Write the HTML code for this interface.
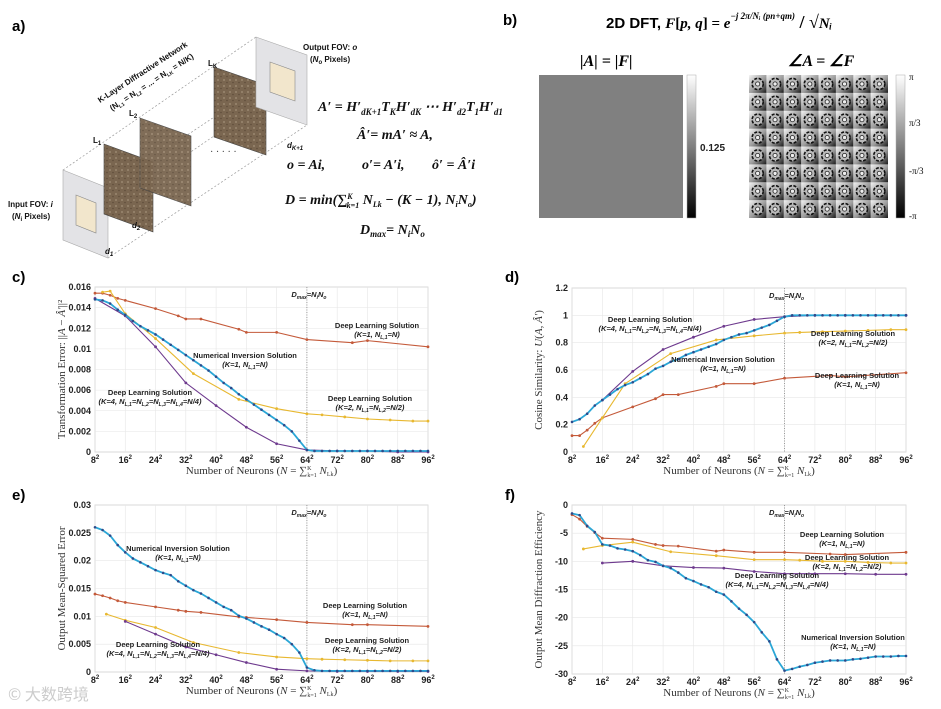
<!DOCTYPE html>
<html><head><meta charset="utf-8">
<style>
html,body{margin:0;padding:0;background:#fff;}
svg{display:block;}
.tk{font-family:"Liberation Sans",sans-serif;font-weight:bold;font-size:9px;fill:#222;}
.ann{font-family:"Liberation Sans",sans-serif;font-weight:bold;font-size:7.5px;fill:#222;text-anchor:middle;}
.annI{font-family:"Liberation Sans",sans-serif;font-weight:bold;font-style:italic;font-size:7.5px;fill:#222;text-anchor:middle;}
.ttl{font-family:"Liberation Serif",serif;font-size:11px;fill:#333;}
.pl{font-family:"Liberation Sans",sans-serif;font-weight:bold;font-size:15px;fill:#000;}
.eq{font-family:"Liberation Serif",serif;font-style:italic;font-weight:bold;font-size:14px;fill:#111;}
.lbl{font-family:"Liberation Sans",sans-serif;font-weight:bold;font-size:8px;fill:#111;}
</style></head>
<body>
<svg id="fig" width="941" height="709" viewBox="0 0 941 709">
<defs>
<pattern id="tex" width="6" height="6" patternUnits="userSpaceOnUse">
<rect width="6" height="6" fill="#7a6650"/><circle cx="2" cy="2" r="1" fill="#9a876f"/><circle cx="5" cy="4.5" r="0.8" fill="#5f4d3a"/>
</pattern>
<linearGradient id="cbar" x1="0" y1="1" x2="0" y2="0"><stop offset="0" stop-color="#000"/><stop offset="1" stop-color="#fff"/></linearGradient>
<linearGradient id="cellg" x1="0" y1="0" x2="1" y2="1"><stop offset="0" stop-color="#f4f4f4"/><stop offset="0.55" stop-color="#9a9a9a"/><stop offset="1" stop-color="#1a1a1a"/></linearGradient>
</defs>

<!-- Panel a -->
<g>
<text class="pl" x="12" y="31">a)</text>
<g stroke="#999" stroke-width="0.7" stroke-dasharray="2,2" fill="none">
<line x1="63" y1="170" x2="256" y2="37"/><line x1="108" y1="188" x2="307" y2="55"/>
<line x1="108" y1="258" x2="307" y2="125"/><line x1="63" y1="240" x2="256" y2="107"/>
</g>
<polygon points="63,170 108,188 108,258 63,240" fill="#e3e3e6" stroke="#aaa" stroke-width="0.6"/>
<polygon points="76,195 96,203 96,233 76,225" fill="#f2e6cc" stroke="#888" stroke-width="0.6"/>
<polygon points="104,144 153,162 153,232 104,214" fill="url(#tex)" stroke="#444" stroke-width="0.6"/>
<polygon points="140,118 191,136 191,206 140,188" fill="url(#tex)" opacity="0.95" stroke="#444" stroke-width="0.6"/>
<polygon points="214,67 266,85 266,155 214,137" fill="url(#tex)" stroke="#444" stroke-width="0.6"/>
<polygon points="256,37 307,55 307,125 256,107" fill="#e3e3e6" stroke="#aaa" stroke-width="0.6"/>
<polygon points="270,62 295,71 295,101 270,92" fill="#f2e6cc" stroke="#888" stroke-width="0.6"/>
<text x="210" y="155" style="font-size:10px;fill:#444">· · · · ·</text>
<text class="lbl" x="93" y="143">L<tspan font-size="6" dy="2">1</tspan></text>
<text class="lbl" x="129" y="116">L<tspan font-size="6" dy="2">2</tspan></text>
<text class="lbl" x="208" y="66">L<tspan font-size="6" dy="2">K</tspan></text>
<text class="lbl" x="132" y="228" font-style="italic">d<tspan font-size="6" dy="2">2</tspan></text>
<text class="lbl" x="105" y="254" font-style="italic">d<tspan font-size="6" dy="2">1</tspan></text>
<text class="lbl" x="287" y="148" font-style="italic">d<tspan font-size="6" dy="2">K+1</tspan></text>
<text class="lbl" x="8" y="207">Input FOV: <tspan font-style="italic">i</tspan></text>
<text class="lbl" x="12" y="219">(<tspan font-style="italic">N</tspan><tspan font-size="6" dy="2">i</tspan><tspan dy="-2"> Pixels)</tspan></text>
<text class="lbl" x="303" y="50">Output FOV: <tspan font-style="italic">o</tspan></text>
<text class="lbl" x="310" y="62">(<tspan font-style="italic">N</tspan><tspan font-size="6" dy="2">o</tspan><tspan dy="-2"> Pixels)</tspan></text>
<text class="lbl" transform="translate(100,103) rotate(-33)">K-Layer Diffractive Network</text>
<text class="lbl" transform="translate(112,111) rotate(-33)">(N<tspan font-size="5" dy="2">L1</tspan><tspan dy="-2"> = N</tspan><tspan font-size="5" dy="2">L2</tspan><tspan dy="-2"> = ... = N</tspan><tspan font-size="5" dy="2">LK</tspan><tspan dy="-2"> = N/K)</tspan></text>
<text class="eq" x="318" y="111">A′ = H′<tspan font-size="9" dy="4">dK+1</tspan><tspan dy="-4">T</tspan><tspan font-size="9" dy="4">K</tspan><tspan dy="-4">H′</tspan><tspan font-size="9" dy="4">dK</tspan><tspan dy="-4"> ⋯ H′</tspan><tspan font-size="9" dy="4">d2</tspan><tspan dy="-4">T</tspan><tspan font-size="9" dy="4">1</tspan><tspan dy="-4">H′</tspan><tspan font-size="9" dy="4">d1</tspan></text>
<text class="eq" x="357" y="139">Â′= mA′ ≈ A,</text>
<text class="eq" x="287" y="169">o = Ai,</text>
<text class="eq" x="362" y="169">o′= A′i,</text>
<text class="eq" x="432" y="169">ô′ = Â′i</text>
<text class="eq" x="285" y="204" font-weight="normal">D = min(∑<tspan font-size="8" dy="-5">K</tspan><tspan font-size="8" dy="9" dx="-6">k=1</tspan><tspan dy="-4"> N</tspan><tspan font-size="8" dy="3">Lk</tspan><tspan dy="-3"> − (K − 1), N</tspan><tspan font-size="8" dy="3">i</tspan><tspan dy="-3">N</tspan><tspan font-size="8" dy="3">o</tspan><tspan dy="-3">)</tspan></text>
<text class="eq" x="360" y="234" font-weight="normal">D<tspan font-size="9" dy="3">max</tspan><tspan dy="-3">= N</tspan><tspan font-size="9" dy="3">i</tspan><tspan dy="-3">N</tspan><tspan font-size="9" dy="3">o</tspan></text>
</g>

<!-- Panel b -->
<g>
<text class="pl" x="503" y="25">b)</text>
<text x="606" y="28" style="font-family:'Liberation Sans',sans-serif;font-weight:bold;font-size:15px">2D DFT, <tspan font-family="Liberation Serif" font-style="italic">F</tspan><tspan font-family="Liberation Serif">[</tspan><tspan font-family="Liberation Serif" font-style="italic">p, q</tspan><tspan font-family="Liberation Serif">] = </tspan><tspan font-family="Liberation Serif" font-style="italic">e</tspan><tspan font-family="Liberation Serif" font-style="italic" font-size="9" dy="-9">−j 2π/Nᵢ (pn+qm)</tspan><tspan font-family="Liberation Serif" dy="9" font-size="18"> / √</tspan><tspan font-family="Liberation Serif" font-style="italic">Nᵢ</tspan></text>
<text x="580" y="66" style="font-family:'Liberation Serif',serif;font-weight:bold;font-style:italic;font-size:16px">|A| = |F|</text>
<text x="788" y="66" style="font-family:'Liberation Serif',serif;font-weight:bold;font-style:italic;font-size:16px">∠A = ∠F</text>
<rect x="539" y="75" width="144" height="143" fill="#808080"/>
<rect x="687" y="75" width="9" height="143" fill="url(#cbar)" stroke="#aaa" stroke-width="0.5"/>
<text class="tk" x="700" y="151" style="font-size:10px">0.125</text>
<g id="phase"></g>
<rect x="896" y="75" width="9" height="143" fill="url(#cbar)" stroke="#aaa" stroke-width="0.5"/>
<text x="909" y="80" style="font-family:'Liberation Serif',serif;font-size:9px">π</text>
<text x="909" y="126" style="font-family:'Liberation Serif',serif;font-size:9px">π/3</text>
<text x="909" y="174" style="font-family:'Liberation Serif',serif;font-size:9px">-π/3</text>
<text x="909" y="219" style="font-family:'Liberation Serif',serif;font-size:9px">-π</text>
</g>

<g id="charts"></g>
<text x="8" y="700" style="font-family:'Noto Sans CJK SC',sans-serif;font-size:16px;fill:#ccc">© 大数跨境</text>
</svg>

<script>
// ===== Chart data (x = n, where N = n^2) =====
const xTicks = [8,16,24,32,40,48,56,64,72,80,88,96];
const niX = [8,10,12,14,16,18,20,22,24,26,28,30,32,34,36,38,40,42,44,46,48,50,52,54,56,58,60,62,64,66,68,70,72,74,76,78,80,82,84,86,88,90,92,94,96];

// c) Transformation error
const cRedX = [8,10,12,14,16,24,30,32,36,46,48,56,64,76,80,96];
const cRedY = [0.0154,0.0154,0.0152,0.0149,0.0147,0.0139,0.0132,0.0129,0.0129,0.0119,0.0116,0.0116,0.0109,0.0106,0.0108,0.0102];
const cBlueY = [0.0148,0.0147,0.0144,0.0138,0.0133,0.0127,0.0122,0.0118,0.0114,0.0109,0.0104,0.0099,0.0094,0.0089,0.0084,0.0079,0.0073,0.0067,0.0062,0.0056,0.0051,0.0046,0.0041,0.0036,0.0031,0.0026,0.0020,0.0011,0.0002,0.0001,0.0001,0.0001,0.0001,0.0001,0.0001,0.0001,0.0001,0.0001,0.0001,0.0001,0.0001,0.0001,0.0001,0.0001,0.0001];
const cYelX = [10,12,16,24,34,46,56,64,68,74,80,86,92,96];
const cYelY = [0.0155,0.0156,0.0134,0.0110,0.0076,0.0051,0.0042,0.0037,0.0036,0.0034,0.0032,0.0031,0.0030,0.0030];
const cPurX = [8,16,24,32,40,48,56,64,72,80,88,96];
const cPurY = [0.0149,0.0132,0.0102,0.0067,0.0045,0.0024,0.0008,0.0002,0.0001,0.0001,0.0,0.0];
const cYTicks = [0,0.002,0.004,0.006,0.008,0.01,0.012,0.014,0.016];

// d) Cosine similarity
const dRedX = [8,10,12,14,16,24,30,32,36,46,48,56,64,76,80,96];
const dRedY = [0.12,0.12,0.16,0.21,0.25,0.33,0.39,0.42,0.42,0.48,0.50,0.50,0.54,0.56,0.55,0.58];
const dBlueY = [0.22,0.24,0.28,0.34,0.38,0.42,0.46,0.49,0.51,0.54,0.57,0.61,0.63,0.66,0.68,0.71,0.73,0.75,0.77,0.79,0.82,0.84,0.86,0.87,0.89,0.91,0.93,0.96,0.99,1,1,1,1,1,1,1,1,1,1,1,1,1,1,1,1];
const dYelX = [11,16,22,34,46,56,64,68,74,80,86,92,96];
const dYelY = [0.04,0.25,0.50,0.72,0.82,0.85,0.87,0.875,0.88,0.885,0.89,0.895,0.895];
const dPurX = [16,24,32,40,48,56,64,72,80,88,96];
const dPurY = [0.38,0.59,0.75,0.84,0.92,0.97,0.99,1,1,1,1];
const dYTicks = [0,0.2,0.4,0.6,0.8,1,1.2];

// e) Output MSE
const eRedX = [8,10,12,14,16,24,30,32,36,46,48,56,64,76,80,96];
const eRedY = [0.0140,0.0137,0.0133,0.0128,0.0125,0.0117,0.0111,0.0109,0.0107,0.0099,0.0098,0.0094,0.0089,0.0085,0.0085,0.0082];
const eBlueY = [0.0260,0.0255,0.0245,0.0228,0.0215,0.0204,0.0197,0.0190,0.0183,0.0178,0.0174,0.0163,0.0155,0.0147,0.0141,0.0133,0.0125,0.0117,0.0111,0.0101,0.0096,0.0089,0.0082,0.0076,0.0068,0.0061,0.0050,0.0035,0.0008,0.0003,0.0002,0.0002,0.0002,0.0002,0.0002,0.0002,0.0002,0.0002,0.0002,0.0002,0.0002,0.0002,0.0002,0.0002,0.0002];
const eYelX = [11,16,24,34,46,56,64,68,74,80,86,92,96];
const eYelY = [0.0104,0.0093,0.0080,0.0053,0.0035,0.0027,0.0024,0.0023,0.0022,0.0021,0.0020,0.0020,0.0020];
const ePurX = [16,24,32,40,48,56,64,72,80,88,96];
const ePurY = [0.0091,0.0068,0.0045,0.0031,0.0017,0.0005,0.0002,0.0001,0.0001,0.0001,0.0001];
const eYTicks = [0,0.005,0.01,0.015,0.02,0.025,0.03];

// f) Diffraction efficiency
const fRedX = [8,10,12,14,16,24,30,32,36,46,48,56,64,76,80,96];
const fRedY = [-1.7,-2.5,-3.8,-4.9,-5.9,-6.1,-7.0,-7.2,-7.3,-8.2,-8.0,-8.4,-8.4,-8.7,-8.8,-8.4];
const fBlueY = [-1.5,-1.8,-3.7,-4.8,-7.0,-7.2,-7.7,-7.9,-8.2,-8.9,-9.8,-10.1,-10.8,-11.2,-12.0,-13.0,-13.5,-14.1,-14.6,-15.4,-15.9,-17.1,-18.4,-19.5,-20.8,-22.6,-24.2,-27.4,-29.4,-29.1,-28.7,-28.4,-28.0,-27.8,-27.6,-27.6,-27.6,-27.4,-27.3,-27.1,-26.9,-26.9,-26.9,-26.8,-26.8];
const fYelX = [11,16,24,34,46,56,64,68,74,80,86,92,96];
const fYelY = [-7.8,-7.2,-6.6,-8.3,-9.0,-9.7,-9.7,-9.8,-10.0,-10.0,-10.2,-10.3,-10.3];
const fPurX = [16,24,32,40,48,56,64,72,80,88,96];
const fPurY = [-10.3,-10.0,-10.8,-11.1,-11.2,-11.8,-12.2,-12.2,-12.2,-12.3,-12.3];
const fYTicks = [-30,-25,-20,-15,-10,-5,0];

const NS = 'http://www.w3.org/2000/svg';
function mk(tag, attrs, parent){ const e=document.createElementNS(NS,tag); for(const k in attrs) e.setAttribute(k,attrs[k]); parent.appendChild(e); return e; }

const COLORS = {red:'#c45a3a', blue:'#2aa6d6', dot:'#2d4a8a', yel:'#e8b830', pur:'#6e3a8e'};

function chart(o){
  const root = document.getElementById('charts');
  const g = mk('g',{},root);
  
  
  const X = n => o.x0 + (n-8)/(96-8)*(o.x1-o.x0);
  const Y = v => o.y0 - (v-o.ymin)/(o.ymax-o.ymin)*(o.y0-o.y1);
  mk('rect',{x:o.x0,y:o.y1,width:o.x1-o.x0,height:o.y0-o.y1,fill:'#fff',stroke:'#bbb','stroke-width':0.7},g);
  xTicks.forEach(t=>{
    mk('line',{x1:X(t),x2:X(t),y1:o.y1,y2:o.y0,stroke:'#e6e6e6','stroke-width':0.6},g);
    const tx = mk('text',{x:X(t),y:o.y0+11,'text-anchor':'middle',class:'tk'},g);
    
    
    tx.textContent = t; const s=mk('tspan',{dy:-4,'font-size':6},tx); s.textContent='2';
  });
  o.yt.forEach(t=>{
    mk('line',{x1:o.x0,x2:o.x1,y1:Y(t),y2:Y(t),stroke:'#e6e6e6','stroke-width':0.6},g);
    const tx = mk('text',{x:o.x0-4,y:Y(t)+3,'text-anchor':'end',class:'tk'},g);
    
    
    tx.textContent = t;
  });
  mk('line',{x1:X(64),x2:X(64),y1:o.y1,y2:o.y0,stroke:'#777','stroke-width':0.7,'stroke-dasharray':'1,1.5'},g);
  const dm = mk('text',{x:X(64)+2,y:o.y1+10,class:'annI'},g);
  dm.setAttribute('text-anchor','start');
  
  
  dm.innerHTML = 'D<tspan font-size="5" dy="2">max</tspan><tspan dy="-2">=N</tspan><tspan font-size="5" dy="2">i</tspan><tspan dy="-2">N</tspan><tspan font-size="5" dy="2">o</tspan>';
  o.series.forEach(s=>{
    const pts = s.x.map((n,i)=>X(n)+','+Y(s.y[i])).join(' ');
    const pl = mk('polyline',{points:pts,fill:'none',stroke:s.c,'stroke-width':s.w||1.1},g);
    
    
    s.x.forEach((n,i)=>{
      const c = mk('circle',{cx:X(n),cy:Y(s.y[i]),r:s.r||1.4,fill:s.dc||s.c},g);
      
      
    });
  });
  const xt = mk('text',{x:(o.x0+o.x1)/2,y:o.y0+22,'text-anchor':'middle',class:'ttl'},g);
  
  
  xt.innerHTML = 'Number of Neurons (<tspan font-style="italic">N</tspan> = ∑<tspan font-size="6" dy="-4">K</tspan><tspan font-size="6" dy="7" dx="-4">k=1</tspan><tspan dy="-3"> </tspan><tspan font-style="italic">N</tspan><tspan font-size="6" dy="2">Lk</tspan><tspan dy="-2">)</tspan>';
  const yt = mk('text',{transform:`translate(${o.x0-30},${(o.y0+o.y1)/2}) rotate(-90)`,'text-anchor':'middle',class:'ttl'},g);
  
  
  yt.innerHTML = o.ytitle;
  o.ann.forEach(a=>{
    const t1 = mk('text',{x:a[0],y:a[1],class:'ann'},g);
    
    
    t1.textContent = a[2];
    const t2 = mk('text',{x:a[0],y:a[1]+9,class:'annI'},g);
    
    
    t2.innerHTML = a[3];
  });
  const pl = mk('text',{x:o.lx,y:o.ly,class:'pl'},g);
  
  
  pl.textContent = o.label;
}

function sub(s){ return '<tspan font-size="5" dy="2">'+s+'</tspan><tspan dy="-2">'; }
const K1='(K=1, N'+sub('L,1')+'=N)</tspan>';
const K2='(K=2, N'+sub('L,1')+'=N'+sub('L,2')+'=N/2)</tspan></tspan>';
const K4='(K=4, N'+sub('L,1')+'=N'+sub('L,2')+'=N'+sub('L,3')+'=N'+sub('L,4')+'=N/4)</tspan></tspan></tspan></tspan>';
const DL='Deep Learning Solution', NI='Numerical Inversion Solution';

function mkSeries(rx,ry,by,yx,yy,px,py){
  return [
    {name:'deep-learning-k1-line',x:rx,y:ry,c:COLORS.red},
    {name:'deep-learning-k2-line',x:yx,y:yy,c:COLORS.yel},
    {name:'deep-learning-k4-line',x:px,y:py,c:COLORS.pur},
    {name:'numerical-inversion-line',x:niX,y:by,c:COLORS.blue,w:1.8,dc:COLORS.dot,r:1.3}
  ];
}

chart({name:'chart-c-transformation-error',label:'c)',lx:12,ly:282,x0:95,x1:428,y0:452,y1:287,ymin:0,ymax:0.016,yt:cYTicks,
  ytitle:'Transformation Error: ||<tspan font-style="italic">A</tspan> − <tspan font-style="italic">Â′</tspan>||²',
  series:mkSeries(cRedX,cRedY,cBlueY,cYelX,cYelY,cPurX,cPurY),
  ann:[[377,328,DL,K1],[245,358,NI,K1],[150,395,DL,K4],[370,401,DL,K2]]});
chart({name:'chart-d-cosine-similarity',label:'d)',lx:505,ly:282,x0:572,x1:906,y0:452,y1:288,ymin:0,ymax:1.2,yt:dYTicks,
  ytitle:'Cosine Similarity: <tspan font-style="italic">U</tspan>(<tspan font-style="italic">A, Â′</tspan>)',
  series:mkSeries(dRedX,dRedY,dBlueY,dYelX,dYelY,dPurX,dPurY),
  ann:[[650,322,DL,K4],[853,336,DL,K2],[723,362,NI,K1],[857,378,DL,K1]]});
chart({name:'chart-e-output-mse',label:'e)',lx:12,ly:500,x0:95,x1:428,y0:672,y1:505,ymin:0,ymax:0.03,yt:eYTicks,
  ytitle:'Output Mean-Squared Error',
  series:mkSeries(eRedX,eRedY,eBlueY,eYelX,eYelY,ePurX,ePurY),
  ann:[[178,551,NI,K1],[365,608,DL,K1],[158,647,DL,K4],[367,643,DL,K2]]});
chart({name:'chart-f-diffraction-efficiency',label:'f)',lx:505,ly:500,x0:572,x1:906,y0:674,y1:505,ymin:-30,ymax:0,yt:fYTicks,
  ytitle:'Output Mean Diffraction Efficiency',
  series:mkSeries(fRedX,fRedY,fBlueY,fYelX,fYelY,fPurX,fPurY),
  ann:[[842,537,DL,K1],[847,560,DL,K2],[777,578,DL,K4],[853,640,NI,K1]]});

// phase image cells
(function(){
  const g = document.getElementById('phase');
  mk('rect',{x:749,y:75,width:139,height:143,fill:'#777'},g);
  const cw = 139/8, ch = 143/8;
  for(let r=0;r<8;r++) for(let c=0;c<8;c++){
    const x = 749+c*cw, y = 75+r*ch;
    mk('rect',{x:x,y:y,width:cw,height:ch,fill:'url(#cellg)'},g);
    mk('circle',{cx:x+cw/2,cy:y+ch/2,r:cw*0.32,fill:'#bbb',stroke:'#111','stroke-width':1.6,'stroke-dasharray':'3,1.5'},g);
    mk('circle',{cx:x+cw/2,cy:y+ch/2,r:cw*0.12,fill:'#eee',stroke:'#222','stroke-width':0.8},g);
  }
})();
</script>
</body></html>
